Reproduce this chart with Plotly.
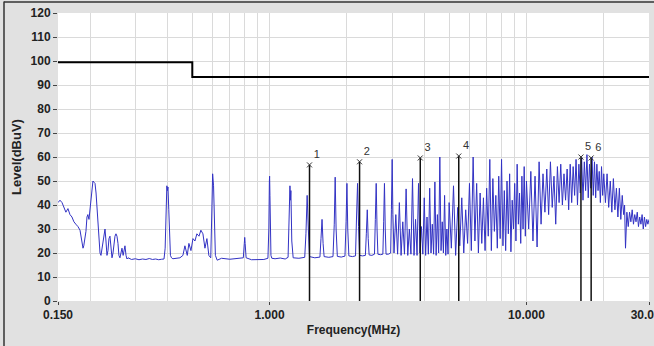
import math
import plotly.graph_objects as go

band_150k_1m = [
    (0.150, 41), (0.1527, 42), (0.1555, 41), (0.158, 39), (0.161, 37), (0.164, 38.5),
    (0.167, 36), (0.170, 35), (0.173, 33), (0.176, 32), (0.1794, 31), (0.1827, 29.5),
    (0.186, 24), (0.1877, 22), (0.189, 23), (0.1927, 29), (0.1945, 35), (0.196, 36),
    (0.198, 34), (0.1997, 38), (0.2016, 44), (0.2034, 48), (0.2052, 50), (0.207, 49.5),
    (0.209, 49), (0.211, 45), (0.213, 38), (0.2147, 30), (0.2166, 24), (0.2186, 20),
    (0.2205, 19), (0.2225, 22), (0.2245, 26), (0.2265, 29), (0.2286, 30), (0.2306, 25),
    (0.2327, 19), (0.2348, 21), (0.2369, 26), (0.239, 27), (0.2412, 22), (0.2434, 18),
    (0.2456, 20), (0.2478, 24), (0.25, 27), (0.2522, 28), (0.2545, 27), (0.2568, 24),
    (0.259, 19), (0.2614, 18), (0.264, 21), (0.2662, 22), (0.269, 19), (0.271, 21),
    (0.2734, 23), (0.276, 19), (0.2784, 17.5), (0.281, 18), (0.286, 17.5), (0.29, 17.3),
    (0.30, 17.6), (0.31, 17.2), (0.32, 17.5), (0.33, 17.3), (0.34, 17.7), (0.35, 17.3),
    (0.36, 17.5), (0.37, 17.2), (0.38, 17.4), (0.388, 17.5), (0.392, 22), (0.395, 40),
    (0.398, 48), (0.400, 46), (0.402, 47.5), (0.405, 38), (0.408, 24), (0.411, 19),
    (0.415, 18), (0.42, 17.6), (0.4476, 18), (0.4597, 19), (0.468, 23), (0.478, 19),
    (0.485, 24), (0.494, 21), (0.503, 26), (0.512, 25), (0.521, 28), (0.531, 27),
    (0.540, 29.5), (0.550, 28), (0.560, 22), (0.570, 26), (0.580, 19), (0.59, 18),
    (0.595, 35), (0.600, 53), (0.605, 48), (0.61, 30), (0.615, 19), (0.625, 17),
    (0.65, 17.8), (0.70, 17.4), (0.75, 17.6), (0.79, 18), (0.797, 24), (0.80, 26.5),
    (0.803, 24), (0.81, 18), (0.85, 17.2), (0.90, 17.4), (0.95, 17.3), (0.985, 17.8),
    (0.993, 30), (0.998, 50), (1.000, 52), (1.003, 44), (1.007, 30), (1.012, 19),
    (1.02, 17.8),
]

band_1m_5m = [
    (1.05, 17.6), (1.10, 17.9), (1.15, 17.5), (1.18, 18.2), (1.19, 30), (1.20, 48),
    (1.205, 42), (1.21, 46), (1.22, 25), (1.235, 18), (1.30, 17.8), (1.37, 18.2),
    (1.385, 28), (1.40, 44), (1.415, 30), (1.43, 18.5), (1.50, 18), (1.57, 18.3),
    (1.585, 26), (1.60, 34), (1.615, 24), (1.63, 18.5), (1.70, 18.2), (1.765, 18.5),
    (1.785, 32), (1.80, 51.6), (1.815, 30), (1.835, 18.6), (1.90, 18.3), (1.965, 18.7),
    (1.985, 33), (2.00, 49), (2.015, 30), (2.035, 18.8), (2.10, 18.5), (2.16, 18.8),
    (2.18, 35), (2.20, 49), (2.22, 31), (2.24, 19), (2.30, 18.8), (2.36, 19),
    (2.38, 28), (2.40, 38), (2.42, 26), (2.44, 19.2), (2.50, 19), (2.56, 19.5),
    (2.58, 34), (2.60, 49), (2.62, 30), (2.64, 19.5), (2.70, 19.3), (2.76, 19.5),
    (2.78, 33), (2.80, 49), (2.82, 30), (2.84, 19.5), (2.90, 19.5), (2.96, 20),
    (2.98, 38), (3.00, 59), (3.02, 36), (3.05, 20), (3.10, 36), (3.15, 19.5),
    (3.20, 41), (3.25, 19), (3.30, 33), (3.35, 19.5), (3.40, 46.7), (3.45, 19),
    (3.50, 30), (3.55, 19.5), (3.60, 51), (3.65, 19), (3.70, 34), (3.75, 19),
    (3.80, 49), (3.85, 20), (3.90, 31), (3.95, 19.5), (4.00, 43), (4.05, 19),
    (4.10, 35), (4.15, 19.5), (4.20, 47), (4.25, 20), (4.30, 32), (4.35, 19.5),
    (4.40, 49.6), (4.45, 19), (4.50, 36), (4.55, 20), (4.60, 60), (4.65, 21),
    (4.70, 33), (4.75, 20), (4.80, 44), (4.85, 19), (4.90, 30), (4.95, 19.5),
]

band_5m_10m = [
    (5.0, 41), (5.1, 22), (5.2, 48), (5.3, 19), (5.4, 39), (5.5, 23), (5.6, 43),
    (5.7, 20), (5.8, 38), (5.9, 24), (6.0, 49), (6.1, 21), (6.2, 60), (6.3, 25),
    (6.4, 49), (6.5, 20), (6.6, 45), (6.7, 24), (6.8, 43), (6.9, 21), (7.0, 47),
    (7.1, 27), (7.2, 59), (7.3, 21), (7.4, 51), (7.5, 29), (7.6, 44), (7.7, 22),
    (7.8, 52), (7.9, 26), (8.0, 59), (8.1, 23), (8.2, 46), (8.3, 21), (8.4, 50),
    (8.5, 28), (8.6, 53), (8.7, 20.5), (8.8, 42), (8.9, 30), (9.0, 49), (9.1, 25),
    (9.2, 57), (9.3, 32), (9.4, 45), (9.5, 24), (9.6, 52), (9.7, 30), (9.8, 56),
    (9.9, 27), (10.0, 50),
]

band_10m_30m = [
    (10.2, 30), (10.4, 54), (10.6, 25), (10.8, 52), (11.0, 22.5), (11.2, 58),
    (11.4, 32), (11.6, 53), (11.8, 37), (12.0, 55), (12.2, 36), (12.4, 58),
    (12.6, 39), (12.8, 52), (13.0, 32), (13.2, 56), (13.4, 41), (13.6, 57),
    (13.8, 40), (14.0, 53), (14.2, 42), (14.4, 55), (14.6, 38), (14.8, 57),
    (15.0, 41), (15.2, 56), (15.4, 44), (15.6, 59), (15.8, 40), (16.0, 57),
    (16.2, 45), (16.4, 60), (16.6, 42), (16.8, 58), (17.0, 46), (17.2, 61),
    (17.4, 43), (17.6, 57), (17.8, 47), (18.0, 60), (18.2, 44), (18.4, 58),
    (18.6, 43), (18.8, 57), (19.0, 46), (19.2, 54), (19.4, 41), (19.6, 56),
    (19.8, 44), (20.0, 53), (20.3, 41), (20.6, 53), (20.9, 39), (21.2, 50),
    (21.5, 37), (21.8, 51), (22.1, 38), (22.4, 47), (22.7, 35), (23.0, 47),
    (23.3, 34), (23.6, 44), (23.9, 36), (24.1, 40), (24.3, 22), (24.6, 37),
    (24.9, 31), (25.2, 37), (25.5, 33), (25.8, 38), (26.1, 32), (26.4, 36),
    (26.7, 33), (27.0, 37), (27.3, 31), (27.6, 35), (27.9, 32), (28.2, 36),
    (28.5, 30), (28.8, 35), (29.1, 31), (29.4, 34), (29.7, 32), (30.0, 34),
]

# ---- limit line ----
limit_freq = [0.15, 0.5, 0.5, 30.0]
limit_level = [99.5, 99.5, 93.3, 93.3]

# ---- markers ----
marker_ids = ["1", "2", "3", "4", "5", "6"]
marker_freq = [1.43, 2.24, 3.86, 5.45, 16.3, 17.86]
marker_level = [56.7, 58.0, 59.6, 60.4, 60.0, 59.6]

# ---- axes ----
x_tick_vals = [0.15, 1.0, 10.0, 30.0]
x_tick_text = ["0.150", "1.000", "10.000", "30.000"]
x_grid_vals = [0.2, 0.3, 0.4, 0.5, 0.6, 0.7, 0.8, 0.9,
               2, 3, 4, 5, 6, 7, 8, 9, 20]
y_tick_vals = list(range(0, 121, 10))

trace_pts = band_150k_1m + band_1m_5m + band_5m_10m + band_10m_30m
tr_f = [p[0] for p in trace_pts]
tr_l = [p[1] for p in trace_pts]

mk_x, mk_y = [], []
for f, l in zip(marker_freq, marker_level):
    mk_x += [f, f, None]
    mk_y += [0, l, None]

FONT = "Liberation Sans"
GRID = "#dadada"

fig = go.Figure()
fig.add_trace(go.Scatter(x=tr_f, y=tr_l, mode="lines",
                         line=dict(color="#3232c4", width=1), hoverinfo="skip"))
fig.add_trace(go.Scatter(x=limit_freq, y=limit_level, mode="lines",
                         line=dict(color="#000000", width=2), hoverinfo="skip"))
fig.add_trace(go.Scatter(x=mk_x, y=mk_y, mode="lines",
                         line=dict(color="#111111", width=1.5), hoverinfo="skip"))
fig.add_trace(go.Scatter(x=marker_freq, y=marker_level, mode="markers+text",
                         text=marker_ids, textposition="top right",
                         textfont=dict(family=FONT, size=11, color="#333333"),
                         marker=dict(symbol="x-thin", size=5,
                                     line=dict(width=1, color="#333333")),
                         hoverinfo="skip"))

fig.update_layout(
    width=654, height=346,
    margin=dict(l=58, r=5, t=13, b=45, autoexpand=False),
    paper_bgcolor="#e1e1e1", plot_bgcolor="#ffffff",
    showlegend=False,
    font=dict(family=FONT, size=12, color="#222222"),
    shapes=[
        dict(type="line", xref="paper", yref="paper",
             x0=(4 - 58) / 591, x1=(4 - 58) / 591, y0=-0.16, y1=1.04,
             line=dict(color="#333333", width=1.5)),
        dict(type="line", xref="paper", yref="paper",
             x0=(4 - 58) / 591, x1=1.01, y0=(301 - 2) / 288, y1=(301 - 2) / 288,
             line=dict(color="#333333", width=1.5)),
    ],
)
fig.update_xaxes(
    type="log", range=[math.log10(0.15), math.log10(30)],
    automargin=False, ticklabeloverflow="allow",
    tickvals=x_tick_vals, ticktext=x_tick_text,
    tickfont=dict(family=FONT, size=12, weight="bold", color="#222222"),
    ticks="outside", ticklen=3, tickcolor="#444444",
    showgrid=True, gridcolor=GRID, gridwidth=1,
    minor=dict(tickvals=x_grid_vals, showgrid=True, gridcolor=GRID, ticks=""),
    showline=False, zeroline=False,
    title=dict(text="Frequency(MHz)", standoff=4,
               font=dict(family=FONT, size=12, weight="bold", color="#222222")),
)
fig.update_yaxes(
    range=[0, 120], tickvals=y_tick_vals,
    automargin=False,
    tickfont=dict(family=FONT, size=12, weight="bold", color="#222222"),
    ticks="outside", ticklen=4, tickcolor="#444444",
    showgrid=True, gridcolor=GRID, gridwidth=1,
    showline=False, zeroline=False,
    title=dict(text="Level(dBuV)", standoff=6,
               font=dict(family=FONT, size=13, weight="bold", color="#222222")),
)

fig.write_html("out.html",
               config={"displayModeBar": False},
               post_script="document.body.style.margin='0';document.body.style.background='#ffffff';")
